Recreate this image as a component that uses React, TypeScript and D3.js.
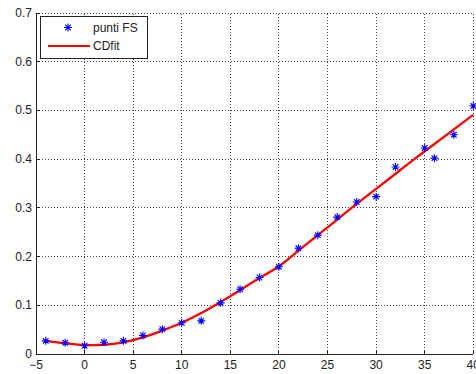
import React from "react";
import * as d3 from "d3";

const pointX = [-4, -2, 0, 2, 4, 6, 8, 10, 12, 14, 16, 18, 20, 22, 24, 26, 28, 30, 32, 35, 36, 38, 40];
const pointY = [0.027, 0.023, 0.017, 0.024, 0.027, 0.038, 0.051, 0.064, 0.068, 0.105, 0.133, 0.157, 0.179, 0.217, 0.244, 0.281, 0.312, 0.323, 0.384, 0.423, 0.402, 0.45, 0.509];

const fitX = [-4, -2, 0, 2, 4, 6, 8, 10, 12, 14, 16, 18, 20, 22, 24, 26, 28, 30, 32, 34, 36, 38, 40];
const fitY = [0.027, 0.022, 0.0185, 0.019, 0.024, 0.034, 0.048, 0.064, 0.084, 0.107, 0.131, 0.156, 0.18, 0.212, 0.244, 0.276, 0.308, 0.339, 0.37, 0.401, 0.431, 0.461, 0.491];

const xTicks = [-5, 0, 5, 10, 15, 20, 25, 30, 35, 40];
const yTicks = [0, 0.1, 0.2, 0.3, 0.4, 0.5, 0.6, 0.7];
const seriesNames = ["punti FS", "CDfit"];

const W = 476;
const H = 374;
const FONT = "'Liberation Sans', Arial, Helvetica, sans-serif";

function Star({ cx, cy }: { cx: number; cy: number }) {
  const a = 4;
  const b = 2.8;
  const d = `M${cx - a},${cy}H${cx + a}M${cx},${cy - a}V${cy + a}M${cx - b},${cy - b}L${cx + b},${cy + b}M${cx - b},${cy + b}L${cx + b},${cy - b}`;
  return <path d={d} stroke="#0000ff" strokeWidth={1.1} fill="none" />;
}

export default function App() {
  const x = d3.scaleLinear().domain([-5, 40]).range([36, 473.3]);
  const y = d3.scaleLinear().domain([0, 0.7]).range([354, 13]);
  const line = d3
    .line<number>()
    .x((_, i) => x(fitX[i]))
    .y((d) => y(d))
    .curve(d3.curveNatural);

  const left = x(-5);
  const right = x(40);
  const bottom = y(0);
  const top = y(0.7);

  return (
    <svg
      width={W}
      height={H}
      style={{ position: "absolute", left: 0, top: 0, display: "block", background: "#fff" }}
      fontFamily={FONT}
    >
      <rect x={0} y={0} width={W} height={H} fill="#fff" />
      {/* grid */}
      {xTicks.map((t) => (
        <line key={"gx" + t} x1={x(t)} x2={x(t)} y1={bottom} y2={top} stroke="#444" strokeWidth={1} strokeDasharray="1 2" shapeRendering="crispEdges" />
      ))}
      {yTicks.map((t) => (
        <line key={"gy" + t} x1={left} x2={right} y1={y(t)} y2={y(t)} stroke="#444" strokeWidth={1} strokeDasharray="1 2" shapeRendering="crispEdges" />
      ))}
      {/* axes */}
      <line x1={left} x2={right} y1={bottom} y2={bottom} stroke="#222" strokeWidth={1} shapeRendering="crispEdges" />
      <line x1={left} x2={left} y1={bottom} y2={top} stroke="#222" strokeWidth={1} shapeRendering="crispEdges" />
      {xTicks.map((t) => (
        <g key={"xt" + t}>
          <line x1={x(t)} x2={x(t)} y1={bottom} y2={bottom - 4} stroke="#222" shapeRendering="crispEdges" />
          <text x={x(t)} y={369} fontSize={12} textAnchor="middle" fill="#222">
            {d3.format("")(t).replace("-", "-")}
          </text>
        </g>
      ))}
      {yTicks.map((t) => (
        <g key={"yt" + t}>
          <line x1={left} x2={left + 4} y1={y(t)} y2={y(t)} stroke="#222" shapeRendering="crispEdges" />
          <text x={32} y={y(t) + 4} fontSize={12} textAnchor="end" fill="#222">
            {t === 0 ? "0" : d3.format(".1f")(t)}
          </text>
        </g>
      ))}
      {/* fit line */}
      <path d={line(fitY) || ""} fill="none" stroke="#ff0000" strokeWidth={2.3} />
      {/* points */}
      {pointX.map((px, i) => (
        <Star key={"p" + i} cx={x(px)} cy={y(pointY[i])} />
      ))}
      {/* legend */}
      <rect x={40.5} y={16.5} width={107} height={42} fill="#fff" stroke="#222" strokeWidth={1} shapeRendering="crispEdges" />
      <Star cx={68} cy={27.5} />
      <text x={93} y={31.5} fontSize={12} fill="#222">
        {seriesNames[0]}
      </text>
      <line x1={48} x2={90} y1={46} y2={46} stroke="#ff0000" strokeWidth={2} />
      <text x={93} y={50} fontSize={12} fill="#222">
        {seriesNames[1]}
      </text>
    </svg>
  );
}
